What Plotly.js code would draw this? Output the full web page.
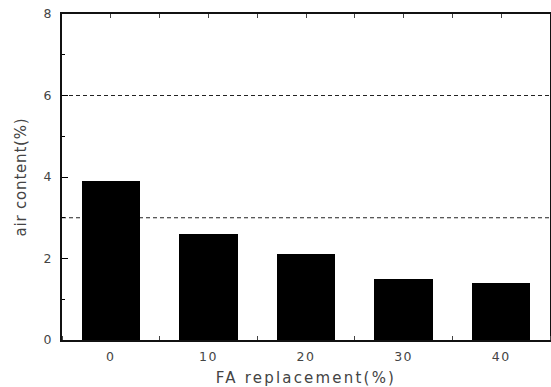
<!DOCTYPE html>
<html>
<head>
<meta charset="utf-8">
<script src="https://cdn.plot.ly/plotly-3.0.1.min.js"></script>
<style>
  html, body { margin: 0; padding: 0; background: #fff; }
  #chart { width: 551px; height: 387px; }
  .xtitle { letter-spacing: 2.2px; }
  .ytitle { letter-spacing: 0.8px; }
  .xtick text { letter-spacing: 1.5px; }
</style>
</head>
<body>
<div id="chart"></div>
<script>
// Air content of concrete by fly-ash replacement level
const replacementLabels = ['0', '10', '20', '30', '40'];
const airContent = [3.9, 2.6, 2.1, 1.5, 1.4];
// Reference limits drawn as dashed horizontal lines
const limitLines = [3, 6];
const yTickVals = [0, 2, 4, 6, 8];

const xIndex = replacementLabels.map((_, i) => i);

const tickFont = { family: 'DejaVu Sans, Liberation Sans, sans-serif', size: 12.5, color: '#444' };
const titleFont = { family: 'DejaVu Sans, Liberation Sans, sans-serif', size: 15, color: '#444' };

const traces = [{
  type: 'bar',
  x: xIndex,
  y: airContent,
  width: 0.6,
  marker: { color: '#000', line: { width: 0 } },
  hoverinfo: 'skip'
}];

// hidden trace on the top axis so its tick marks are drawn
traces.push({ type: 'scatter', x: [0], y: [0], xaxis: 'x2', yaxis: 'y', mode: 'markers',
  marker: { opacity: 0 }, hoverinfo: 'skip' });

const shapes = limitLines.map(v => ({
  type: 'line', xref: 'paper', x0: 0, x1: 1, yref: 'y', y0: v, y1: v,
  line: { color: '#222', width: 1, dash: '4px,3px' },
  layer: 'below'
}));

const layout = {
  width: 551, height: 387,
  margin: { l: 62, r: 1, t: 14, b: 47 },
  paper_bgcolor: '#fff', plot_bgcolor: '#fff',
  showlegend: false,
  bargap: 0,
  shapes: shapes,
  xaxis: {
    range: [-0.5, 4.5],
    tickvals: xIndex, ticktext: replacementLabels,
    ticks: '', tickfont: tickFont, ticklabelstandoff: 4,
    showgrid: false, zeroline: false,
    showline: true, linecolor: '#111', linewidth: 2,
    mirror: true,
    minor: { tick0: 0.5, dtick: 1, ticks: 'inside', ticklen: 4, tickcolor: '#444', showgrid: false },
    title: { text: 'FA replacement(%)', font: titleFont, standoff: 10 }
  },
  xaxis2: {
    overlaying: 'x', side: 'top', matches: 'x',
    range: [-0.5, 4.5], dtick: 0.5, tick0: 0,
    ticks: 'inside', ticklen: 4, tickcolor: '#444',
    showticklabels: false, showgrid: false, zeroline: false, showline: false
  },
  yaxis: {
    range: [0, 8],
    tickvals: yTickVals, ticks: 'inside', ticklen: 6, tickcolor: '#000',
    tickfont: tickFont, ticklabelstandoff: 6,
    showgrid: false, zeroline: false,
    showline: true, linecolor: '#111', linewidth: 2,
    mirror: true,
    minor: { dtick: 1, ticks: 'inside', ticklen: 3, tickcolor: '#000', showgrid: false },
    title: { text: 'air content(%)', font: titleFont, standoff: 13 }
  }
};

Plotly.newPlot('chart', traces, layout, { displayModeBar: false, staticPlot: true });
</script>
</body>
</html>
